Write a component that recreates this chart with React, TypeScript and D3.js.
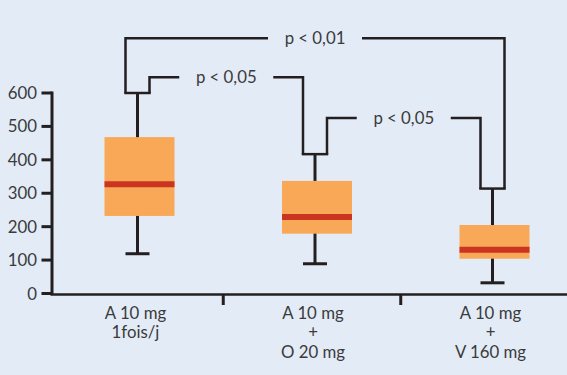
import React from "react";
import * as d3 from "d3";

const categories = ["A 10 mg|1fois/j", "A 10 mg|+|O 20 mg", "A 10 mg|+|V 160 mg"];
const whiskerLow = [119, 89, 32];
const q1 = [232, 179, 104];
const medians = [327, 229, 131];
const q3 = [468, 337, 205];
const whiskerHigh = [600, 417, 314];

const cmpFrom = [0, 0, 1];
const cmpTo = [1, 2, 2];
const cmpHeight = [647, 764, 525];
const cmpLabel = ["p < 0,05", "p < 0,01", "p < 0,05"];

const yTicks = [0, 100, 200, 300, 400, 500, 600];

const W = 567;
const H = 375;
const BG = "#e3ebf7";
const INK = "#231f20";
const TXT = "#3b3b3b";
const FONT = "Lato, 'Noto Sans', sans-serif";
const FS = 16.8;

export default function App() {
  const x = d3.scaleBand<number>().domain([0, 1, 2]).range([48.75, 581.25]).paddingInner(0).paddingOuter(0);
  const y = d3.scaleLinear().domain([0, 600]).range([293.5, 93]);
  const cx = (i: number) => (x(i) as number) + x.bandwidth() / 2;
  const boxW = 70;
  const capW = 24;
  const conn = 12;
  const gap = 94;

  return (
    <div style={{ position: "fixed", left: 0, top: 0, width: W, height: H }}>
      <svg width={W} height={H} style={{ display: "block" }} fontFamily={FONT}>
        <rect x={0} y={0} width={W} height={H} fill={BG} />
        {/* boxes */}
        {categories.map((c, i) => {
          const xc = cx(i);
          return (
            <g key={i}>
              <line x1={xc} x2={xc} y1={y(whiskerLow[i])} y2={y(whiskerHigh[i])} stroke={INK} strokeWidth={3} />
              <line x1={xc - capW / 2} x2={xc + capW / 2} y1={y(whiskerLow[i])} y2={y(whiskerLow[i])} stroke={INK} strokeWidth={3} />
              <rect x={xc - boxW / 2 + 2} y={y(q3[i])} width={boxW} height={y(q1[i]) - y(q3[i])} fill="#f9a857" />
              <line x1={xc - boxW / 2 + 2} x2={xc + boxW / 2 + 2} y1={y(medians[i])} y2={y(medians[i])} stroke="#cc3422" strokeWidth={6} />
              <line x1={xc - conn} x2={xc + conn} y1={y(whiskerHigh[i])} y2={y(whiskerHigh[i])} stroke={INK} strokeWidth={2.5} strokeLinecap="square" />
            </g>
          );
        })}
        {/* significance brackets */}
        {cmpLabel.map((lab, k) => {
          const i = cmpFrom[k];
          const j = cmpTo[k];
          const span = j - i;
          const x1 = cx(i) + (span > 1 ? -conn : conn);
          const x2 = cx(j) + (span > 1 ? conn : -conn);
          const yy = y(cmpHeight[k]);
          const mid = (x1 + x2) / 2;
          return (
            <g key={k}>
              <path d={`M${x1},${y(whiskerHigh[i])}V${yy}H${mid - gap / 2}`} fill="none" stroke={INK} strokeWidth={2.5} />
              <path d={`M${mid + gap / 2},${yy}H${x2}V${y(whiskerHigh[j])}`} fill="none" stroke={INK} strokeWidth={2.5} />
              <text x={mid} y={yy + 6} textAnchor="middle" fontSize={FS} fill={TXT}>
                {lab}
              </text>
            </g>
          );
        })}
        {/* y axis */}
        <line x1={52} x2={52} y1={y(600) - 1.5} y2={295} stroke={INK} strokeWidth={3} />
        {yTicks.map((t) => (
          <g key={t}>
            <line x1={41.5} x2={52} y1={y(t)} y2={y(t)} stroke={INK} strokeWidth={3} />
            <text x={37} y={y(t) + 6} textAnchor="end" fontSize={FS} fill={TXT}>
              {t}
            </text>
          </g>
        ))}
        {/* x axis */}
        <line x1={50.5} x2={W} y1={294.5} y2={294.5} stroke={INK} strokeWidth={2.5} />
        {[1, 2].map((i) => (
          <line key={i} x1={(x(i) as number) - 3} x2={(x(i) as number) - 3} y1={294.5} y2={305} stroke={INK} strokeWidth={3} />
        ))}
        {categories.map((c, i) => (
          <text key={i} textAnchor="middle" fontSize={FS} fill={TXT}>
            {c.split("|").map((line, li) => (
              <tspan key={li} x={cx(i) - 2} y={318.5 + li * 19.5}>
                {line}
              </tspan>
            ))}
          </text>
        ))}
      </svg>
    </div>
  );
}
